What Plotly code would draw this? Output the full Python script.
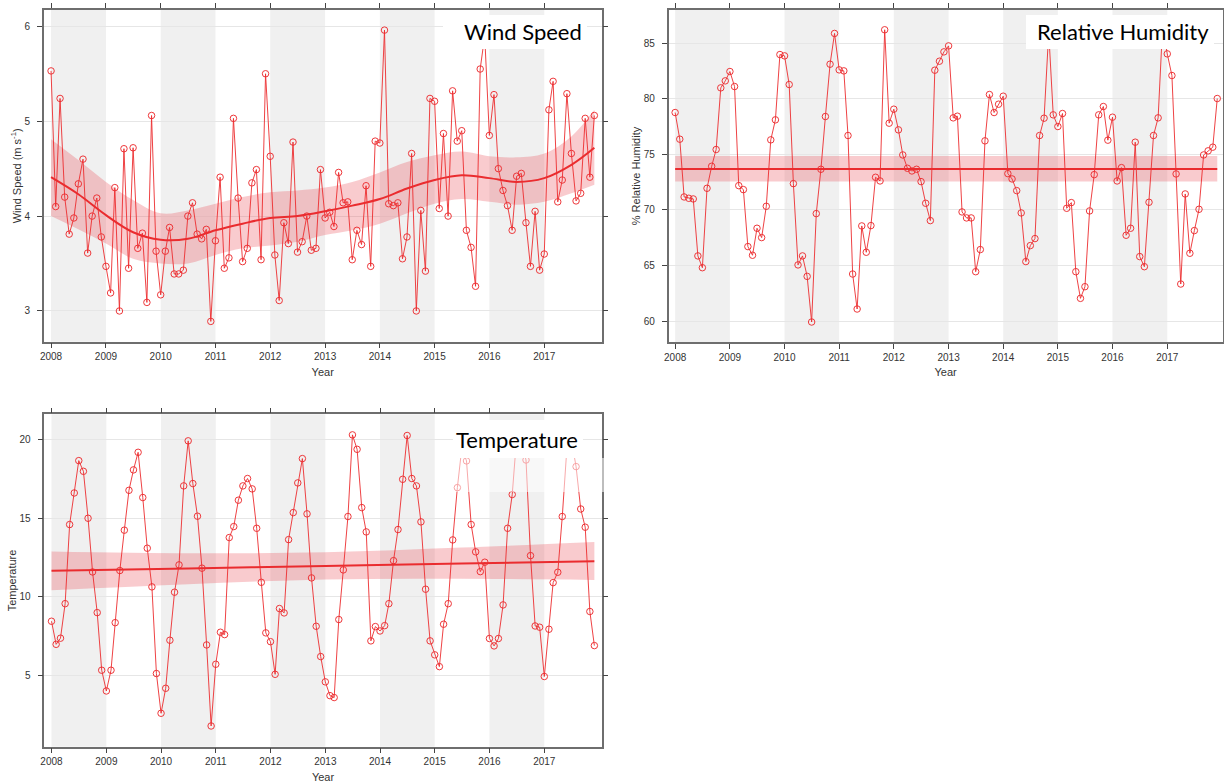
import pandas as pd
import plotly.graph_objects as go

# Monthly series, January 2008 to December 2017
months = pd.date_range("2008-01-01", periods=120, freq="MS")
year_ticks = [f"{y}-01-01" for y in range(2008, 2018)]
year_labels = [str(y) for y in range(2008, 2018)]

wind_speed = [
    5.53, 4.10, 5.24, 4.20, 3.81, 3.98, 4.34, 4.60, 3.61, 4.00, 4.19, 3.78,
    3.47, 3.19, 4.30, 3.00, 4.71, 3.45, 4.72, 3.66, 3.82, 3.09, 5.06, 3.63,
    3.17, 3.63, 3.88, 3.39, 3.39, 3.43, 4.00, 4.14, 3.81, 3.76, 3.86, 2.89,
    3.74, 4.41, 3.45, 3.56, 5.03, 4.19, 3.52, 3.66, 4.35, 4.49, 3.54, 5.50,
    4.63, 3.59, 3.11, 3.93, 3.71, 4.78, 3.62, 3.73, 4.00, 3.64, 3.66, 4.49,
    3.98, 4.04, 3.89, 4.46, 4.14, 4.15, 3.54, 3.85, 3.70, 4.32, 3.47, 4.79,
    4.77, 5.96, 4.13, 4.11, 4.14, 3.55, 3.78, 4.66, 3.00, 4.06, 3.42, 5.24,
    5.21, 4.08, 4.87, 4.00, 5.32, 4.79, 4.90, 3.85, 3.67, 3.26, 5.55, 5.90,
    4.85, 5.28, 4.50, 4.27, 4.11, 3.85, 4.42, 4.45, 3.93, 3.47, 4.05, 3.43,
    3.60, 5.12, 5.42, 4.15, 4.38, 5.29, 4.66, 4.16, 4.24, 5.03, 4.41, 5.06,
]

humidity = [
    78.77, 76.37, 71.17, 71.05, 70.99, 65.86, 64.80, 71.95, 73.93, 75.44, 80.99, 81.62,
    82.46, 81.11, 72.19, 71.83, 66.70, 65.92, 68.35, 67.51, 70.33, 76.31, 78.11, 83.99,
    83.87, 81.29, 72.37, 65.05, 65.86, 64.02, 59.91, 69.67, 73.66, 78.41, 83.12, 85.89,
    82.61, 82.52, 76.70, 64.23, 61.08, 68.56, 66.19, 68.59, 72.94, 72.61, 86.22, 77.81,
    79.07, 77.21, 74.95, 73.75, 73.51, 73.66, 72.55, 70.60, 69.04, 82.58, 83.39, 84.23,
    84.77, 78.29, 78.44, 69.82, 69.28, 69.28, 64.44, 66.43, 76.22, 80.39, 78.77, 79.52,
    80.24, 73.27, 72.79, 71.74, 69.73, 65.35, 66.79, 67.42, 76.70, 78.26, 86.00, 78.56,
    77.51, 78.68, 70.15, 70.66, 64.44, 62.04, 63.09, 69.91, 73.18, 78.56, 79.31, 76.28,
    78.35, 72.61, 73.81, 67.72, 68.35, 76.10, 65.80, 64.89, 70.69, 76.70, 78.29, 86.60,
    84.05, 82.10, 73.24, 63.33, 71.44, 66.10, 68.14, 70.06, 74.95, 75.32, 75.65, 80.03,
]

temperature = [
    8.44, 6.97, 7.36, 9.56, 14.60, 16.61, 18.67, 17.99, 15.00, 11.58, 8.99, 5.32,
    4.00, 5.32, 8.35, 11.67, 14.24, 16.78, 18.08, 19.20, 16.32, 13.09, 10.63, 5.11,
    2.58, 4.17, 7.23, 10.29, 12.03, 17.06, 19.93, 17.21, 15.13, 11.82, 6.93, 1.77,
    5.70, 7.74, 7.59, 13.77, 14.47, 16.15, 17.06, 17.53, 16.87, 14.36, 10.92, 7.70,
    7.14, 5.06, 9.25, 8.97, 13.64, 15.36, 17.25, 18.80, 15.28, 11.20, 8.12, 6.19,
    4.58, 3.70, 3.58, 8.55, 11.71, 15.11, 20.31, 19.39, 15.68, 14.13, 7.19, 8.10,
    7.82, 8.16, 9.56, 12.30, 14.28, 17.48, 20.27, 17.53, 17.06, 14.77, 10.48, 7.19,
    6.30, 5.55, 8.25, 9.56, 13.62, 16.95, 19.50, 18.65, 14.60, 12.86, 11.60, 12.20,
    7.34, 6.87, 7.34, 9.48, 14.36, 16.51, 20.20, 19.80, 18.71, 12.62, 8.14, 8.06,
    4.92, 7.93, 10.90, 11.56, 15.11, 19.50, 20.00, 18.29, 15.59, 14.43, 9.06, 6.89,
]

# Smooth trend of wind speed with its confidence band
ws_knots = pd.to_datetime([
    "2008-01-01", "2008-07-01", "2009-01-01", "2009-07-01", "2010-01-01",
    "2010-07-01", "2011-01-01", "2011-07-01", "2012-01-01", "2012-07-01",
    "2013-01-01", "2013-07-01", "2014-01-01", "2014-07-01", "2015-01-01",
    "2015-07-01", "2016-01-01", "2016-07-01", "2017-01-01", "2017-07-01",
    "2017-12-01",
])
ws_fit = [4.41, 4.23, 4.01, 3.83, 3.75, 3.76, 3.85, 3.92, 3.98, 4.00,
          4.05, 4.11, 4.18, 4.29, 4.38, 4.43, 4.40, 4.36, 4.40, 4.54, 4.72]
ws_upper = [4.81, 4.59, 4.36, 4.17, 4.03, 4.06, 4.13, 4.20, 4.25, 4.27,
            4.30, 4.36, 4.46, 4.57, 4.64, 4.68, 4.63, 4.62, 4.66, 4.84, 5.12]
ws_lower = [4.00, 3.86, 3.71, 3.55, 3.50, 3.50, 3.59, 3.66, 3.69, 3.73,
            3.80, 3.85, 3.92, 4.03, 4.13, 4.18, 4.15, 4.12, 4.15, 4.24, 4.33]

# Mean humidity with its confidence band
rh_knots = pd.to_datetime(["2008-01-01", "2017-12-01"])
rh_fit = [73.69, 73.69]
rh_upper = [74.86, 74.86]
rh_lower = [72.55, 72.55]

# Linear temperature trend with its confidence band
t_knots = pd.to_datetime(["2008-01-01", "2010-07-01", "2013-01-01",
                          "2015-07-01", "2017-12-01"])
t_fit = [11.65, 11.80, 11.96, 12.11, 12.26]
t_upper = [12.88, 12.77, 12.83, 13.13, 13.49]
t_lower = [10.41, 10.80, 11.10, 11.14, 11.07]

shaded_years = [2008, 2010, 2012, 2014, 2016]

W, H = 1224, 783
RED = "#ea2c2f"
BAND = "rgba(232,70,80,0.28)"

fig = go.Figure()


def add_panel(fig, n, y, knots, fit, upper, lower, spline):
    xa = "x" if n == 1 else f"x{n}"
    ya = "y" if n == 1 else f"y{n}"
    shape = "spline" if spline else "linear"
    fig.add_trace(go.Scatter(x=knots, y=lower, mode="lines", line=dict(width=0, shape=shape),
                             hoverinfo="skip", showlegend=False, xaxis=xa, yaxis=ya))
    fig.add_trace(go.Scatter(x=knots, y=upper, mode="lines", line=dict(width=0, shape=shape),
                             fill="tonexty", fillcolor=BAND, hoverinfo="skip",
                             showlegend=False, xaxis=xa, yaxis=ya))
    fig.add_trace(go.Scatter(x=knots, y=fit, mode="lines",
                             line=dict(color=RED, width=2, shape=shape),
                             showlegend=False, xaxis=xa, yaxis=ya))
    fig.add_trace(go.Scatter(x=months, y=y, mode="lines+markers",
                             line=dict(color="rgba(236,45,48,0.9)", width=1),
                             marker=dict(symbol="circle-open", size=6.5,
                                         color="rgba(236,45,48,0.95)",
                                         line=dict(width=1)),
                             showlegend=False, xaxis=xa, yaxis=ya))
    for yr in shaded_years:
        fig.add_shape(type="rect", xref=xa, yref=f"{ya} domain",
                      x0=f"{yr}-01-01", x1=f"{yr + 1}-01-01", y0=0, y1=1,
                      fillcolor="#f0f0f0", line=dict(width=0), layer="below")


add_panel(fig, 1, wind_speed, ws_knots, ws_fit, ws_upper, ws_lower, True)
add_panel(fig, 2, humidity, rh_knots, rh_fit, rh_upper, rh_lower, False)
add_panel(fig, 3, temperature, t_knots, t_fit, t_upper, t_lower, True)

tick_font = dict(family="Liberation Sans, Arial, sans-serif", size=10, color="#333")
title_font = dict(family="Liberation Sans, Arial, sans-serif", size=11, color="#333")

xcommon = dict(type="date", tickmode="array", tickvals=year_ticks, ticktext=year_labels,
               showgrid=False, showline=True, linecolor="#6e6e6e", linewidth=1.5,
               mirror="ticks", ticks="outside", ticklen=5, tickcolor="#444",
               tickfont=tick_font, zeroline=False, automargin=False,
               title=dict(text="Year", font=title_font, standoff=7))
ycommon = dict(showgrid=True, gridcolor="#e6e6e6", gridwidth=1,
               showline=True, linecolor="#6e6e6e", linewidth=1.5,
               mirror="ticks", ticks="outside", ticklen=5, tickcolor="#444",
               tickfont=tick_font, zeroline=False, ticklabelstandoff=5,
               automargin=False)


def px_dom(a, b, total):
    return [a / total, b / total]


def py_dom(top, bottom):
    return [1 - bottom / H, 1 - top / H]


fig.update_layout(
    width=W, height=H,
    margin=dict(l=0, r=0, t=0, b=0, autoexpand=False),
    paper_bgcolor="white", plot_bgcolor="white",
    xaxis=dict(xcommon, domain=px_dom(43.7, 601.7, W), anchor="y",
               range=["2007-11-13", "2018-01-19"]),
    yaxis=dict(ycommon, domain=py_dom(10, 341.7), anchor="x",
               range=[2.676, 6.172], tickvals=[3, 4, 5, 6],
               title=dict(text="Wind Speed (m s<sup>-1</sup>)", font=title_font, standoff=1)),
    xaxis2=dict(xcommon, domain=px_dom(668.7, 1222.5, W), anchor="y2",
                range=["2007-11-19", "2018-01-05"]),
    yaxis2=dict(ycommon, domain=py_dom(10, 342), anchor="x2",
                range=[58.11, 88.0], tickvals=[60, 65, 70, 75, 80, 85],
                title=dict(text="% Relative Humidity", font=title_font, standoff=1)),
    xaxis3=dict(xcommon, domain=px_dom(44.3, 601.7, W), anchor="y3",
                range=["2007-11-14", "2018-01-19"]),
    yaxis3=dict(ycommon, domain=py_dom(414.3, 746.7), anchor="x3",
                range=[0.45, 21.62], tickvals=[5, 10, 15, 20],
                title=dict(text="Temperature", font=title_font, standoff=1)),
)

# Panel title labels sit on white boxes drawn over the data
label_font = dict(family="Lato, Open Sans, sans-serif", size=22, color="black")
labels = [
    ("Wind Speed", 443, 15, 587, 49),
    ("Relative Humidity", 1026, 15, 1214, 49),
    ("Temperature", 453, 420, 583, 458),
]
for text, x0, y0, x1, y1 in labels:
    fig.add_shape(type="rect", xref="paper", yref="paper",
                  x0=x0 / W, x1=x1 / W, y0=1 - y1 / H, y1=1 - y0 / H,
                  fillcolor="white", line=dict(width=0), layer="above")
    fig.add_annotation(text=text, xref="paper", yref="paper",
                       x=(x1 - 3) / W, y=1 - (y0 + y1) / 2 / H,
                       xanchor="right", yanchor="middle", showarrow=False,
                       font=label_font)

# faded strip under the temperature label
fig.add_shape(type="rect", xref="paper", yref="paper",
              x0=453 / W, x1=604 / W, y0=1 - 492 / H, y1=1 - 458 / H,
              fillcolor="rgba(255,255,255,0.55)", line=dict(width=0), layer="above")

fig.write_html("out.html")
